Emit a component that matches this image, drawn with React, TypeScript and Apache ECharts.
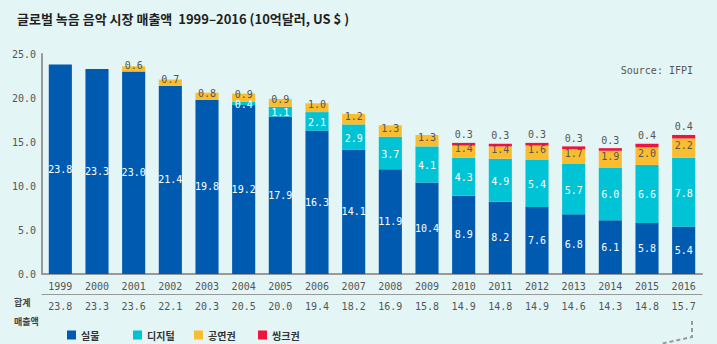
import React, { useEffect, useRef } from "react";
import * as echarts from "echarts";

const years = ["1999","2000","2001","2002","2003","2004","2005","2006","2007","2008","2009","2010","2011","2012","2013","2014","2015","2016"];
const physical = [23.8, 23.3, 23.0, 21.4, 19.8, 19.2, 17.9, 16.3, 14.1, 11.9, 10.4, 8.9, 8.2, 7.6, 6.8, 6.1, 5.8, 5.4];
const digital = [null, null, null, null, null, 0.4, 1.1, 2.1, 2.9, 3.7, 4.1, 4.3, 4.9, 5.4, 5.7, 6.0, 6.6, 7.8];
const performance = [null, null, 0.6, 0.7, 0.8, 0.9, 0.9, 1.0, 1.2, 1.3, 1.3, 1.4, 1.4, 1.6, 1.7, 1.9, 2.0, 2.2];
const sync = [null, null, null, null, null, null, null, null, null, null, null, 0.3, 0.3, 0.3, 0.3, 0.3, 0.4, 0.4];
const totals = ["23.8","23.3","23.6","22.1","20.3","20.5","20.0","19.4","18.2","16.9","15.8","14.9","14.8","14.9","14.6","14.3","14.8","15.7"];
const seriesNames = ["실물", "디지털", "공연권", "씽크권"];
const yTicks = { min: 0, max: 25, interval: 5 };

const MONO = "'DejaVu Sans Mono', monospace";
const KR = "'Noto Sans CJK KR', 'Noto Sans', sans-serif";
const legendLefts = [67, 133, 194, 258];

export default function App() {
  const ref = useRef<HTMLDivElement>(null);
  useEffect(() => {
    if (!ref.current) return;
    const chart = echarts.init(ref.current, null, { renderer: "svg" });
    const fmt = (p: any) => (p.value == null || p.value === 0 ? "" : Number(p.value).toFixed(1));
    const mkSeries = (name: string, data: any[], color: string, labelColor: string, pos: string, dist: number, offset: number[]) => ({
      name,
      type: "bar",
      stack: "total",
      data,
      barWidth: "63%",
      itemStyle: { color },
      label: {
        show: true,
        position: pos,
        formatter: fmt,
        color: labelColor,
        fontFamily: MONO,
        fontSize: 10,
        distance: dist,
        offset,
      },
    });
    chart.setOption({
      animation: false,
      backgroundColor: "#e4f5f5",
      title: [
        {
          text: "글로벌 녹음 음악 시장 매출액  1999–2016 (10억달러, US $ )",
          left: 12,
          top: 7,
          textStyle: { fontFamily: KR, fontSize: 13, fontWeight: "bold", color: "#222" },
        },
        {
          text: "Source: IFPI",
          right: 19,
          top: 60,
          textStyle: { fontFamily: MONO, fontSize: 10, fontWeight: "normal", color: "#555" },
        },
      ],
      legend: seriesNames.map((n, i) => ({
        left: legendLefts[i],
        top: 330,
        padding: 0,
        itemWidth: 9,
        itemHeight: 9,
        itemGap: 5,
        icon: "rect",
        data: [n],
        textStyle: { fontFamily: KR, fontSize: 10, fontWeight: "bold", color: "#333" },
      })),
      grid: { left: 42, right: 15, top: 54, bottom: 70 },
      xAxis: [
        {
          type: "category",
          data: years,
          axisLine: { lineStyle: { color: "#999", width: 2 } },
          axisTick: { show: false },
          axisLabel: { fontFamily: MONO, fontSize: 10, color: "#555", margin: 7 },
        },
        {
          type: "category",
          data: totals,
          position: "bottom",
          offset: 20,
          axisLine: { lineStyle: { color: "#999", width: 1 } },
          axisTick: { show: false },
          axisLabel: { fontFamily: MONO, fontSize: 10, color: "#555", margin: 7 },
        },
      ],
      yAxis: {
        type: "value",
        min: yTicks.min,
        max: yTicks.max,
        interval: yTicks.interval,
        axisLine: { show: true, lineStyle: { color: "#999", width: 2 } },
        axisTick: { show: false },
        splitLine: { show: false },
        axisLabel: {
          fontFamily: MONO,
          fontSize: 10,
          color: "#555",
          margin: 6,
          formatter: (v: number) => v.toFixed(1),
        },
      },
      graphic: [
        { type: "text", left: 14, top: 298, style: { text: "합계", fontFamily: KR, fontSize: 9, fontWeight: "bold", fill: "#444" } },
        { type: "text", left: 14, top: 317, style: { text: "매출액", fontFamily: KR, fontSize: 9, fontWeight: "bold", fill: "#444" } },
        {
          type: "polyline",
          shape: { points: [[692, 321], [692, 337], [660, 344]] },
          style: { stroke: "#999", lineWidth: 2, lineDash: [4, 3], fill: null },
        },
      ],
      series: [
        mkSeries(seriesNames[0], physical, "#005bb0", "#fff", "inside", 2, [0, 0]),
        mkSeries(seriesNames[1], digital, "#00c3d5", "#fff", "inside", 2, [0, 1]),
        mkSeries(seriesNames[2], performance, "#fbbd30", "#555", "inside", 2, [0, -3]),
        mkSeries(seriesNames[3], sync, "#f0123f", "#555", "top", 3, [0, 0]),
      ],
    });
    return () => chart.dispose();
  }, []);
  return <div ref={ref} style={{ width: 717, height: 344, position: "absolute", left: 0, top: 0 }} />;
}
